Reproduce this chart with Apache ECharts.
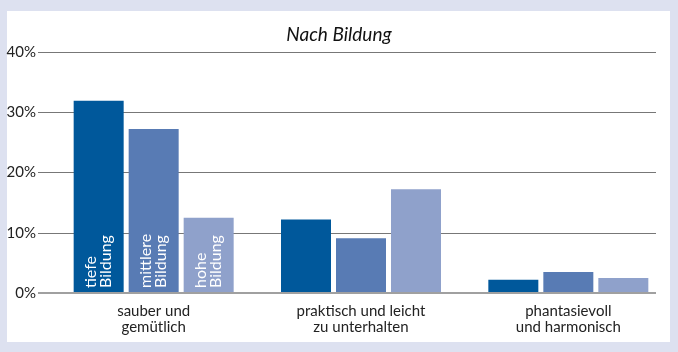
<!DOCTYPE html>
<html>
<head>
<meta charset="utf-8">
<script src="https://cdn.jsdelivr.net/npm/echarts@6/dist/echarts.min.js"></script>
<style>
  html, body { margin: 0; padding: 0; background: #dde1f0; }
  #chart { width: 678px; height: 352px; }
</style>
</head>
<body>
<div id="chart"></div>
<script>
var categories = ['sauber und\ngemütlich', 'praktisch und leicht\nzu unterhalten', 'phantasievoll\nund harmonisch'];
var seriesNames = ['tiefe\nBildung', 'mittlere\nBildung', 'hohe\nBildung'];
var tiefe = [31.9, 12.2, 2.2];
var mittlere = [27.2, 9.1, 3.5];
var hohe = [12.5, 17.2, 2.5];
var yTicks = [0, 10, 20, 30, 40];

var colors = ['#00589b', '#587bb4', '#8fa1cb'];
var font = 'Lato, "Open Sans", sans-serif';

function makeSeries(name, values, color) {
    return {
        name: name,
        type: 'bar',
        xAxisIndex: 1,
        yAxisIndex: 1,
        barWidth: 50,
        barGap: '10%',
        itemStyle: { color: color },
        label: {
            show: true,
            position: 'insideBottom',
            rotate: 90,
            align: 'left',
            verticalAlign: 'middle',
            distance: 5,
            color: '#fff',
            fontFamily: font,
            fontSize: 16,
            lineHeight: 15,
            formatter: function (p) {
                // nur die erste Gruppe ist beschriftet
                return p.dataIndex === 0 ? name : '';
            }
        },
        data: values
    };
}

var chart = echarts.init(document.getElementById('chart'));
chart.setOption({
    backgroundColor: '#dde1f0',
    animation: false,
    graphic: [{
        type: 'rect',
        shape: { x: 7, y: 11, width: 663, height: 331 },
        style: { fill: '#fff' },
        z: -10
    }],
    title: {
        text: 'Nach Bildung',
        left: 'center',
        top: 20,
        textStyle: {
            fontFamily: font,
            fontStyle: 'italic',
            fontWeight: 'normal',
            fontSize: 19,
            color: '#111'
        }
    },
    grid: [
        { left: 38, right: 22, top: 52, bottom: 59 },
        { left: 50, right: 6, top: 52, bottom: 59 }
    ],
    xAxis: [
        { gridIndex: 0, type: 'value', show: false, min: 0, max: 1 },
        {
            gridIndex: 1,
            type: 'category',
            data: categories,
            axisLine: { show: false },
            axisTick: { show: false },
            axisLabel: {
                fontFamily: font,
                fontSize: 15,
                lineHeight: 16,
                color: '#222',
                margin: 10
            }
        }
    ],
    yAxis: [
        {
            gridIndex: 0,
            type: 'value',
            min: yTicks[0],
            max: yTicks[yTicks.length - 1],
            interval: 10,
            axisLine: { show: false },
            axisTick: { show: false },
            axisLabel: {
                formatter: '{value}%',
                fontFamily: font,
                fontSize: 15,
                color: '#222',
                margin: 2
            },
            splitLine: { lineStyle: { color: '#777', width: 1 } }
        },
        {
            gridIndex: 1,
            type: 'value',
            min: yTicks[0],
            max: yTicks[yTicks.length - 1],
            show: false,
            splitLine: { show: false }
        }
    ],
    series: [
        makeSeries(seriesNames[0], tiefe, colors[0]),
        makeSeries(seriesNames[1], mittlere, colors[1]),
        makeSeries(seriesNames[2], hohe, colors[2]),
        {
            // Nulllinie etwas heller und dicker
            type: 'line',
            xAxisIndex: 0,
            yAxisIndex: 0,
            data: [],
            markLine: {
                silent: true,
                symbol: 'none',
                label: { show: false },
                lineStyle: { color: '#a0a0a0', width: 2, type: 'solid' },
                data: [{ yAxis: 0 }]
            }
        }
    ]
});
</script>
</body>
</html>
